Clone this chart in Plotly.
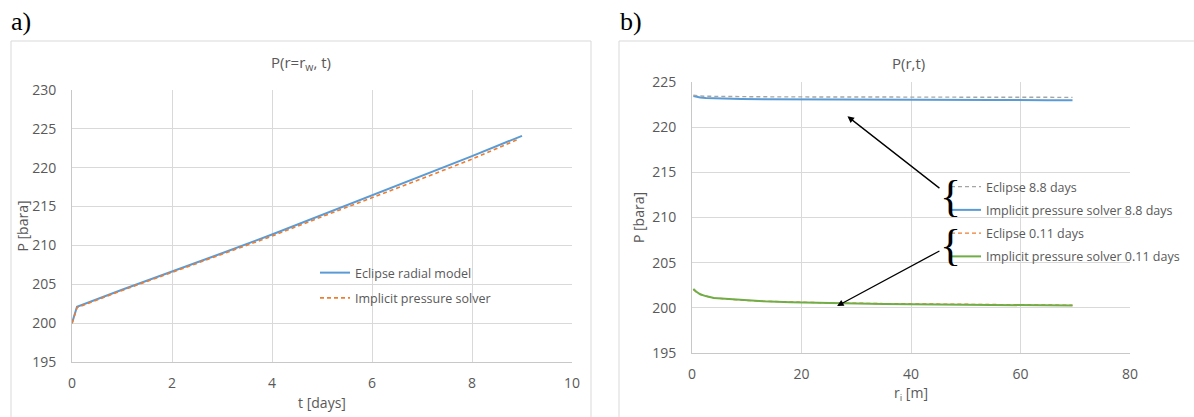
import plotly.graph_objects as go

W, H = 1194, 417

# ---- Panel a data ----
t_ecl = [0, 0.1, 1, 2, 3, 4, 5, 6, 7, 8, 9]
p_ecl = [200, 202.1, 204.3, 206.6, 209.0, 211.4, 213.9, 216.4, 218.9, 221.5, 224.1]
t_imp = [0, 0.1, 1, 2, 3, 4, 5, 6, 7, 8, 8.9]
p_imp = [200, 202.0, 204.2, 206.5, 208.8, 211.2, 213.7, 216.1, 218.6, 221.1, 223.6]

# ---- Panel b data ----
r_i = [0.25, 0.75, 1.5, 2.5, 4, 6, 9, 13, 18, 25, 35, 45, 55, 65, 69.5]
p_ecl_88 = [223.55, 223.5, 223.45, 223.42, 223.4, 223.38, 223.37, 223.36, 223.35, 223.34, 223.33, 223.32, 223.31, 223.3, 223.3]
p_imp_88 = [223.45, 223.35, 223.28, 223.22, 223.18, 223.15, 223.12, 223.1, 223.08, 223.06, 223.04, 223.02, 223.0, 222.99, 222.98]
p_ecl_011 = [202.0, 201.75, 201.5, 201.3, 201.1, 200.98, 200.85, 200.73, 200.63, 200.55, 200.47, 200.41, 200.36, 200.31, 200.29]
p_imp_011 = [202.1, 201.8, 201.5, 201.3, 201.1, 201.0, 200.85, 200.72, 200.62, 200.52, 200.43, 200.37, 200.32, 200.27, 200.25]

# arrow annotations in panel b: (head x, head y, tail x, tail y)
arrow_88 = (28.4, 221.2, 47.2, 212.3)
arrow_011 = (26.5, 200.2, 47.2, 206.95)

BLUE, ORANGE, GREY, GREEN = "#5b9bd5", "#ed7d31", "#a5a5a5", "#70ad47"
TXT = "#595959"
GRID = "#d9d9d9"
FONT = "Open Sans"

def px(x):
    return x / W

def py(y):
    return (H - y) / H

fig = go.Figure()

fig.add_trace(go.Scatter(x=t_ecl, y=p_ecl, mode="lines", name="Eclipse radial model",
                         line=dict(color=BLUE, width=2), xaxis="x", yaxis="y",
                         legend="legend", legendgroup="a1"))
fig.add_trace(go.Scatter(x=t_imp, y=p_imp, mode="lines", name="Implicit pressure solver",
                         line=dict(color=ORANGE, width=1.6, dash="4px,3px"), xaxis="x", yaxis="y",
                         legend="legend", legendgroup="a2"))

fig.add_trace(go.Scatter(x=r_i, y=p_imp_88, mode="lines", name="Implicit pressure solver 8.8 days",
                         line=dict(color=BLUE, width=2), xaxis="x2", yaxis="y2",
                         legend="legend2", legendgroup="b2", legendrank=2))
fig.add_trace(go.Scatter(x=r_i, y=p_ecl_88, mode="lines", name="Eclipse 8.8 days",
                         line=dict(color=GREY, width=1.4, dash="4px,3px"), xaxis="x2", yaxis="y2",
                         legend="legend2", legendgroup="b1", legendrank=1))
fig.add_trace(go.Scatter(x=r_i, y=p_ecl_011, mode="lines", name="Eclipse 0.11 days",
                         line=dict(color=ORANGE, width=1.4, dash="4px,3px"), xaxis="x2", yaxis="y2",
                         legend="legend2", legendgroup="b3", legendrank=3))
fig.add_trace(go.Scatter(x=r_i, y=p_imp_011, mode="lines", name="Implicit pressure solver 0.11 days",
                         line=dict(color=GREEN, width=2), xaxis="x2", yaxis="y2",
                         legend="legend2", legendgroup="b4", legendrank=4))

axis_common = dict(showgrid=True, gridcolor=GRID, gridwidth=1, zeroline=False,
                   showline=True, linecolor="#c8c8c8", linewidth=1, ticks="",
                   automargin=False,
                   tickfont=dict(family=FONT, size=14, color=TXT),
                   title_font=dict(family=FONT, size=14, color=TXT))

fig.update_layout(
    template="none",
    width=W, height=H, margin=dict(l=0, r=0, t=0, b=0, pad=0),
    paper_bgcolor="white", plot_bgcolor="white",
    font=dict(family=FONT, size=13, color=TXT),
    xaxis=dict(axis_common, domain=[px(72), px(572)], range=[0, 10], dtick=2,
               anchor="y", ticklabelstandoff=8,
               title=dict(text="t [days]", standoff=7)),
    yaxis=dict(axis_common, domain=[py(362), py(90)], range=[195, 230], dtick=5,
               anchor="x", ticklabelstandoff=12,
               title=dict(text="P [bara]", standoff=0)),
    xaxis2=dict(axis_common, domain=[px(692), px(1130)], range=[0, 80], dtick=20,
                anchor="y2", ticklabelstandoff=8,
                title=dict(text="r<sub>i</sub> [m]", standoff=5)),
    yaxis2=dict(axis_common, domain=[py(353), py(82)], range=[195, 225], dtick=5,
                anchor="x2", ticklabelstandoff=12,
                title=dict(text="P [bara]", standoff=4)),
    legend=dict(x=px(315), y=py(258), xanchor="left", yanchor="top",
                bgcolor="rgba(0,0,0,0)", font=dict(family=FONT, size=12.5, color=TXT),
                tracegroupgap=6, itemwidth=30),
    legend2=dict(x=px(946), y=py(172), xanchor="left", yanchor="top",
                 bgcolor="rgba(0,0,0,0)", font=dict(family=FONT, size=12.5, color=TXT),
                 tracegroupgap=4, itemwidth=30),
    showlegend=True,
)

# chart frames
fig.add_shape(type="rect", xref="paper", yref="paper", x0=px(11), x1=px(591),
              y0=-0.02, y1=py(41), line=dict(color=GRID, width=1), layer="below")
fig.add_shape(type="rect", xref="paper", yref="paper", x0=px(619), x1=1.02,
              y0=-0.02, y1=py(41), line=dict(color=GRID, width=1), layer="below")

# titles and panel labels
fig.add_annotation(text="P(r=r<sub>w</sub>, t)", xref="paper", yref="paper", x=px(301), y=py(63),
                   xanchor="center", yanchor="middle",
                   showarrow=False, font=dict(family=FONT, size=15, color=TXT))
fig.add_annotation(text="P(r,t)", xref="paper", yref="paper", x=px(908), y=py(63),
                   xanchor="center", yanchor="middle",
                   showarrow=False, font=dict(family=FONT, size=15, color=TXT))
fig.add_annotation(text="a)", xref="paper", yref="paper", x=px(9), y=py(21),
                   xanchor="left", yanchor="middle",
                   showarrow=False, font=dict(family="Liberation Serif", size=26, color="black"))
fig.add_annotation(text="b)", xref="paper", yref="paper", x=px(618), y=py(21),
                   xanchor="left", yanchor="middle",
                   showarrow=False, font=dict(family="Liberation Serif", size=26, color="black"))

# braces with arrows pointing to the curves
for hx, hy, tx, ty in (arrow_88, arrow_011):
    fig.add_annotation(text="{", x=hx, y=hy, ax=tx, ay=ty, xref="x2", yref="y2",
                       axref="x2", ayref="y2", showarrow=True, arrowhead=2, arrowsize=1,
                       arrowwidth=1.3, arrowcolor="black", standoff=0, startstandoff=0,
                       xanchor="center", yanchor="middle", borderpad=0,
                       font=dict(family="Liberation Serif", size=44, color="black"))

fig.write_html("out.html")
